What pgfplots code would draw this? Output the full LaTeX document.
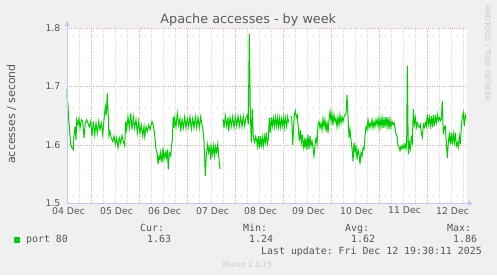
\documentclass[border=0pt]{standalone}
\usepackage{pgfplots}
\pgfplotsset{compat=1.18}
\usepackage{fontspec}
\setmainfont{DejaVu Sans}
\setmonofont{DejaVu Sans Mono}
\usetikzlibrary{arrows.meta}
\definecolor{bg}{HTML}{F0F0F0}
\definecolor{axisc}{HTML}{C4C8F0}
\definecolor{mgrid}{HTML}{E2AAAA}
\definecolor{sgrid}{HTML}{D6D6D6}
\definecolor{linec}{HTML}{00CC00}
\definecolor{txt}{HTML}{555555}
\definecolor{titlec}{HTML}{5A5A5A}
\definecolor{wm}{HTML}{C8C8C8}

\pgfplotstableread{
x y
0 1.695
0.5 1.665
1 1.668
1.7 1.643
2.3 1.631
3.7 1.600
5 1.595
6.3 1.592
7 1.615
8 1.631
9 1.609
9.7 1.643
11 1.634
12 1.645
13 1.629
14.3 1.643
15.7 1.640
17 1.612
18.3 1.637
19.7 1.643
21 1.637
22.3 1.631
23.7 1.640
25 1.615
26.3 1.640
27.7 1.617
29 1.637
30.3 1.620
31.7 1.640
33 1.626
34.3 1.637
35.7 1.617
37 1.643
38.3 1.665
39.3 1.651
40.3 1.688
41.3 1.648
42 1.615
43 1.623
44.3 1.612
45.7 1.606
47 1.615
48.3 1.601
49.7 1.612
51 1.595
52.3 1.612
53.7 1.603
55 1.616
56.3 1.606
57.7 1.598
58.7 1.640
59.7 1.626
61 1.648
62.3 1.629
63.7 1.654
65 1.626
66.3 1.648
67.7 1.629
69 1.643
70.3 1.620
71.7 1.640
73 1.620
74.3 1.634
75.7 1.615
77 1.631
77.7 1.615
79 1.631
80.3 1.623
81.7 1.634
83 1.626
85 1.640
86.3 1.634
87.7 1.617
89 1.592
90.3 1.584
91 1.567
92 1.581
93 1.575
93.7 1.587
95 1.570
96 1.595
97 1.575
98.3 1.587
99.3 1.578
100.3 1.592
101.3 1.558
102.3 1.587
103.7 1.581
104.3 1.595
105.3 1.609
106.3 1.648
107 1.629
107.7 1.645
109 1.631
110.3 1.654
111.7 1.634
113 1.645
113.7 1.623
115 1.643
116.3 1.629
117.7 1.648
119 1.629
120.3 1.645
121.7 1.631
123 1.648
124.3 1.627
125.7 1.645
127 1.629
128.3 1.648
129.7 1.629
131 1.647
132.3 1.629
133.7 1.648
135 1.634
135.7 1.629
137 1.606
138.3 1.547
139.3 1.581
140.7 1.601
141.7 1.587
143 1.598
143.7 1.575
144.7 1.595
145.7 1.584
146.7 1.599
147.7 1.581
148.7 1.597
149.7 1.587
150.7 1.601
151.7 1.581
153 1.559
154 nan
155 1.643
156.3 1.642
157 1.629
158.3 1.650
159.7 1.632
161 1.647
161.7 1.624
163 1.647
164.3 1.632
165.7 1.648
167 1.630
168.3 1.648
169.7 1.632
171 1.649
172.3 1.632
173.7 1.648
175 1.631
176.3 1.649
177.7 1.632
179 1.647
180.3 1.651
181.3 1.635
182.3 1.790
183.3 1.658
184.3 1.604
185.3 1.661
186.3 1.613
187.7 1.604
188.7 1.614
189.7 1.607
190.3 1.598
191.3 1.615
192.3 1.594
193.3 1.615
194.3 1.596
195.3 1.613
196.3 1.598
197.3 1.615
198.3 1.604
199.3 1.621
200.3 1.601
201.3 1.610
202.3 1.646
203.3 1.621
204.3 1.647
205.3 1.632
206.3 1.646
207.3 1.631
208.3 1.647
209.3 1.632
210.3 1.647
211.3 1.630
212.3 1.646
213.3 1.630
214.3 1.644
215.3 1.632
216.3 1.647
217.3 1.630
218.3 1.647
219.7 1.631
220.7 1.648
221.7 1.638
222.5 nan
223.3 1.648
224.7 1.648
225.7 1.600
227.3 1.651
228.3 1.658
229.3 1.647
230.3 1.651
231 1.635
232.3 1.607
233.3 1.625
234.3 1.604
235.3 1.618
236.3 1.596
237.3 1.607
238 1.595
239 1.612
240 1.592
241 1.617
242 1.593
243 1.615
244 1.598
245 1.606
246 1.595
247 1.581
248 1.601
249 1.611
250 1.601
251 1.634
252 1.640
253 1.629
254 1.637
255 1.626
256 1.645
257 1.631
258 1.643
259 1.623
260 1.640
261 1.620
262 1.643
263 1.657
264 1.640
265 1.654
266 1.634
267 1.651
268 1.640
269 1.645
270 1.631
271 1.648
272 1.634
273 1.651
274 1.637
275 1.648
276 1.640
277 1.648
278 1.651
279 1.654
280 1.685
281 1.648
282 1.612
283 1.626
284 1.609
285 1.595
286 1.572
287 1.603
288 1.589
289 1.598
290 1.575
291 1.592
292 1.584
293 1.567
294 1.587
295 1.581
296 1.595
297 1.592
298 1.615
299 1.631
300 1.626
301 1.643
302 1.629
303 1.637
304 1.631
305 1.643
306 1.629
307 1.640
308 1.631
309 1.643
310 1.634
311 1.645
312 1.629
313 1.645
314 1.631
315 1.647
316 1.629
317 1.647
318 1.630
319 1.648
320 1.631
321 1.647
322 1.627
323 1.644
324 1.630
325 1.640
326 1.635
327 1.638
328 1.630
329 1.618
330 1.615
331 1.598
332 1.596
333 1.590
334 1.598
335 1.593
336 1.600
337 1.594
338 1.601
339 1.593
339.7 1.607
340.3 1.735
341.3 1.584
342.3 1.604
343.3 1.593
344.3 1.613
345.3 1.604
346.3 1.661
347.3 1.635
348.3 1.647
349.3 1.630
350.3 1.638
351.3 1.632
352.3 1.630
353.3 1.635
354.3 1.621
355.3 1.613
356.3 1.635
357.3 1.630
358.3 1.638
359.3 1.632
360.3 1.652
361.3 1.635
362.3 1.647
363.3 1.632
364.3 1.649
365.3 1.630
366.3 1.651
367.3 1.632
368.3 1.648
369.3 1.638
370.3 1.652
371.3 1.641
372.3 1.647
373.3 1.641
374.3 1.644
375.3 1.675
376.3 1.618
377.3 1.630
378.3 1.632
379.3 1.604
380.3 1.578
381.3 1.604
382.3 1.618
383.3 1.601
384.3 1.621
385.3 1.601
386.3 1.619
387.3 1.604
388.3 1.621
389.3 1.598
390.3 1.604
391.3 1.596
392.3 1.615
393.3 1.601
394.3 1.630
395.3 1.647
396.3 1.655
397.3 1.632
398.3 1.651
399 1.645
}\datatable

\begin{document}
\begin{tikzpicture}[x=1bp,y=1bp]
\fill[bg] (0,0) rectangle (497,275);
\begin{axis}[
  at={(67bp,71.7bp)}, anchor=south west,
  scale only axis, width=400bp, height=175.3bp,
  xmin=0, xmax=400, ymin=1.5, ymax=1.8,
  axis background/.style={fill=white},
  axis line style={draw=none},
  clip=false,
  unbounded coords=jump,
  xtick={1.5,49.5,...,385.5},
  xticklabels={04 Dec,05 Dec,06 Dec,07 Dec,08 Dec,09 Dec,10 Dec,11 Dec,12 Dec},
  minor xtick={12,36,48,60,84,96,108,132,144,156,180,192,204,228,240,252,276,288,300,324,336,348,372,384,396},
  xminorgrids=true,
  minor grid style={sgrid, line width=0.7bp, dash pattern=on 1bp off 1.2bp},
  extra x ticks={24,72,120,168,216,264,312,360},
  extra x tick labels={},
  extra x tick style={xmajorgrids=true},
  ytick={1.5,1.6,1.7,1.8},
  yticklabels={1.5,1.6,1.7,1.8},
  ymajorgrids=true,
  major grid style={mgrid, line width=0.7bp, dash pattern=on 1bp off 1.2bp},
  major tick length=0pt, minor tick length=0pt,
  xticklabel style={font=\fontsize{9.3bp}{11bp}\selectfont, text=txt, anchor=north, inner sep=0pt, yshift=-3.7bp},
  yticklabel style={font=\fontsize{9.3bp}{11bp}\selectfont, text=txt, anchor=east, inner sep=0pt, xshift=-6.5bp},
]
\addplot[linec, line width=1bp, no marks] table[x=x,y=y] {\datatable};
\draw[axisc, line width=1bp, -{Triangle[length=5bp,width=5bp]}] (rel axis cs:0,0) -- ([xshift=6bp]rel axis cs:1,0);
\draw[axisc, line width=1bp, -{Triangle[length=5bp,width=5bp]}] (rel axis cs:0,0) -- ([yshift=7bp]rel axis cs:0,1);
\end{axis}
\node[font=\fontsize{12.8bp}{15bp}\selectfont, text=titlec, anchor=base] at (248.3,251.7) {Apache accesses - by week};
\node[rotate=90, font=\fontsize{11bp}{13bp}\selectfont, text=txt] at (11.5,161) {accesses / second};
\node[rotate=-90, font=\fontsize{7.5bp}{9bp}\selectfont, text=wm] at (487.5,221.5) {RRDTOOL / TOBI OETIKER};
\node[font=\fontsize{7.5bp}{9bp}\selectfont, text=wm] at (247.5,10.5) {Munin 2.0.75};
\fill[linec] (14,32) rectangle (20,38);
\begin{scope}[every node/.style={anchor=base west, inner sep=0pt, text=txt, font=\fontsize{9.9bp}{12bp}\ttfamily}]
\node at (26,32.5) {port 80};
\node at (140,44) {Cur:};
\node at (147,32.5) {1.63};
\node at (243,44) {Min:};
\node at (249,32.5) {1.24};
\node at (345,44) {Avg:};
\node at (351,32.5) {1.62};
\node at (447,44) {Max:};
\node at (453,32.5) {1.86};
\node at (261,21) {Last update: Fri Dec 12 19:30:11 2025};
\end{scope}
\end{tikzpicture}
\end{document}
